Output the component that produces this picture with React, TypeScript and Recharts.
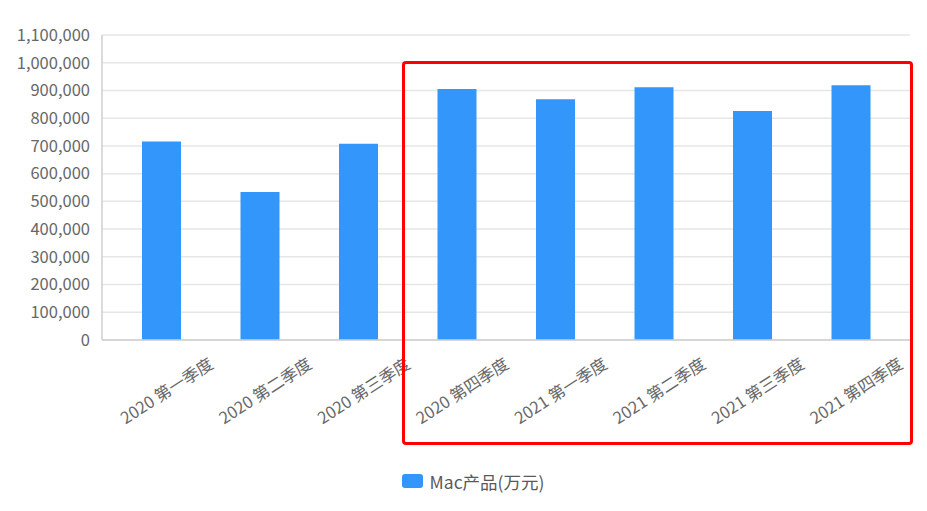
import React from "react";
import { Bar, BarChart, CartesianGrid, Legend, XAxis, YAxis } from "recharts";

const quarters = [
  "2020 第一季度",
  "2020 第二季度",
  "2020 第三季度",
  "2020 第四季度",
  "2021 第一季度",
  "2021 第二季度",
  "2021 第三季度",
  "2021 第四季度",
];
const macRevenue = [716000, 534000, 708000, 905000, 868000, 912000, 826000, 919000];
const yTicks = [0, 100000, 200000, 300000, 400000, 500000, 600000, 700000, 800000, 900000, 1000000, 1100000];

const seriesName = "Mac产品(万元)";
const FONT = '"Noto Sans CJK SC", "Noto Sans", sans-serif';

const data = quarters.map((q, i) => ({ quarter: q, mac: macRevenue[i] }));

function QuarterTick({ x, y, payload }: any) {
  return (
    <g transform={`translate(${x},${y})`}>
      <text
        transform="translate(5,42) rotate(-33)"
        textAnchor="middle"
        dominantBaseline="central"
        fill="#676767"
        fontSize={16.5}
        fontFamily={FONT}
      >
        {payload.value}
      </text>
    </g>
  );
}

function LegendContent() {
  return (
    <div
      style={{
        display: "flex",
        justifyContent: "center",
        alignItems: "center",
        height: 24,
        fontFamily: FONT,
        fontSize: 17.5,
        color: "#5a5a5a",
        paddingLeft: 36,
      }}
    >
      <span
        style={{
          display: "inline-block",
          width: 21,
          height: 14,
          borderRadius: 3,
          background: "#3296fa",
          marginRight: 7,
        }}
      />
      {seriesName}
    </div>
  );
}

export default function App() {
  return (
    <div style={{ position: "absolute", left: 0, top: 0, width: 927, height: 511, background: "#fff" }}>
      <BarChart
        width={927}
        height={511}
        data={data}
        margin={{ top: 35, right: 17, left: 0, bottom: 18 }}
      >
        <CartesianGrid vertical={false} stroke="#e6e6e6" strokeWidth={1.5} />
        <XAxis
          dataKey="quarter"
          interval={0}
          padding={{ left: 10, right: 10 }}
          tickLine={false}
          axisLine={{ stroke: "#cfcfcf", strokeWidth: 1.5 }}
          tick={<QuarterTick />}
          height={129}
        />
        <YAxis
          width={102}
          domain={[0, 1100000]}
          ticks={yTicks}
          interval={0}
          tickLine={false}
          tickSize={0}
          tickMargin={12}
          axisLine={{ stroke: "#cfcfcf", strokeWidth: 1.5 }}
          tickFormatter={(v: number) => v.toLocaleString("en-US")}
          tick={{ fill: "#676767", fontSize: 16.5, fontFamily: FONT }}
        />
        <Legend verticalAlign="bottom" content={<LegendContent />} />
        <Bar dataKey="mac" name={seriesName} fill="#3296fa" barSize={39} isAnimationActive={false} />
      </BarChart>
      <div
        style={{
          position: "absolute",
          left: 402,
          top: 61,
          width: 511,
          height: 384,
          boxSizing: "border-box",
          border: "3.5px solid #ff0000",
          borderRadius: 4,
          pointerEvents: "none",
        }}
      />
    </div>
  );
}
